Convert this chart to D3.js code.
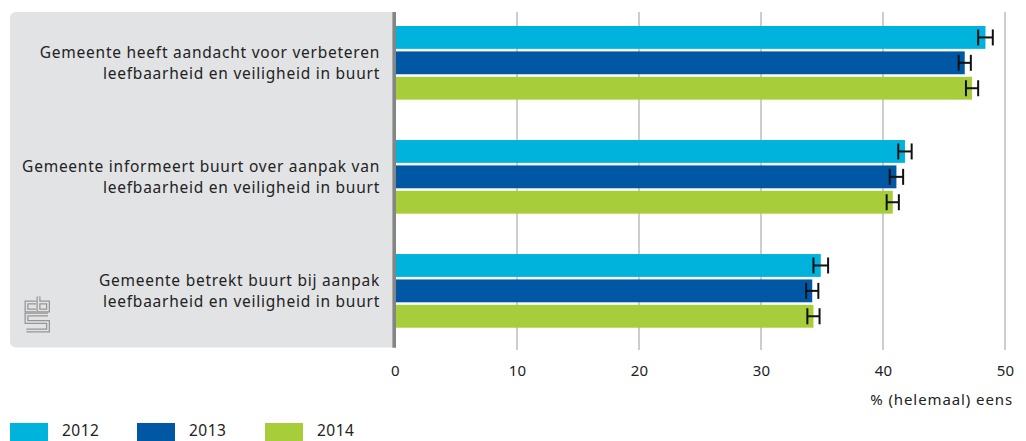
<!doctype html>
<html>
  <head>
    <meta charset="utf-8">
    <script src="https://cdn.jsdelivr.net/npm/d3@7"></script>
    <style>
      body { margin: 0; background: #fff; }
      text { font-family: "Noto Sans", sans-serif; fill: #222; }
    </style>
  </head>
  <body>
    <div id="my_dataviz"></div>
    <script>
      // data
      var categories = [
        ["Gemeente heeft aandacht voor verbeteren", "leefbaarheid en veiligheid in buurt"],
        ["Gemeente informeert buurt over aanpak van", "leefbaarheid en veiligheid in buurt"],
        ["Gemeente betrekt buurt bij aanpak", "leefbaarheid en veiligheid in buurt"]
      ];
      var years = ["2012", "2013", "2014"];
      var values2012 = [48.4, 41.8, 34.9];
      var values2013 = [46.7, 41.1, 34.2];
      var values2014 = [47.3, 40.8, 34.3];
      // half width of the confidence interval
      var errors2012 = [0.6, 0.55, 0.6];
      var errors2013 = [0.5, 0.55, 0.5];
      var errors2014 = [0.5, 0.5, 0.5];
      var xTicks = [0, 10, 20, 30, 40, 50];
      var xTitle = "% (helemaal) eens";

      var colors = ["#00b3dc", "#0058a5", "#a8cd3a"];
      var seriesValues = [values2012, values2013, values2014];
      var seriesErrors = [errors2012, errors2013, errors2014];

      var width = 1026, height = 441;

      var svg = d3.select("#my_dataviz")
        .append("svg")
          .attr("width", width)
          .attr("height", height);

      // scales
      var x = d3.scaleLinear()
        .domain([0, 50])
        .range([395, 1005]);

      var y = d3.scaleBand()
        .domain(d3.range(categories.length))
        .range([26, 327.7])
        .paddingInner(0.354)
        .paddingOuter(0);

      var ySub = d3.scaleBand()
        .domain(years)
        .range([0, y.bandwidth()])
        .paddingInner(0.1);

      var color = d3.scaleOrdinal().domain(years).range(colors);

      // grey label panel
      svg.append("rect")
        .attr("x", 10)
        .attr("y", 12)
        .attr("width", 390)
        .attr("height", 335.5)
        .attr("rx", 6)
        .attr("fill", "#e2e3e5");

      // gridlines
      svg.append("g")
        .selectAll("line")
        .data(xTicks.slice(1))
        .enter()
        .append("line")
          .attr("x1", function(d) { return x(d); })
          .attr("x2", function(d) { return x(d); })
          .attr("y1", 12)
          .attr("y2", 350)
          .attr("stroke", "#bdbdbd")
          .attr("stroke-width", 1.5);

      // white area right of panel so the panel corner on the right is hidden
      svg.append("rect")
        .attr("x", 394)
        .attr("y", 12)
        .attr("width", 8)
        .attr("height", 336)
        .attr("fill", "#fff");

      // bars
      years.forEach(function(yr, s) {
        var g = svg.append("g");
        g.selectAll("rect")
          .data(seriesValues[s])
          .enter()
          .append("rect")
            .attr("x", x(0))
            .attr("y", function(d, i) { return y(i) + ySub(yr); })
            .attr("width", function(d) { return x(d) - x(0); })
            .attr("height", ySub.bandwidth())
            .attr("fill", color(yr));

        // error bars
        var eb = g.selectAll(".err")
          .data(seriesValues[s])
          .enter()
          .append("g")
            .attr("transform", function(d, i) {
              return "translate(0," + (y(i) + ySub(yr) + ySub.bandwidth() / 2) + ")";
            });
        var capH = 8;
        eb.append("line")
          .attr("x1", function(d, i) { return x(d - seriesErrors[s][i]); })
          .attr("x2", function(d, i) { return x(d + seriesErrors[s][i]); })
          .attr("stroke", "#111").attr("stroke-width", 2);
        eb.append("line")
          .attr("x1", function(d, i) { return x(d - seriesErrors[s][i]); })
          .attr("x2", function(d, i) { return x(d - seriesErrors[s][i]); })
          .attr("y1", -capH).attr("y2", capH)
          .attr("stroke", "#111").attr("stroke-width", 2);
        eb.append("line")
          .attr("x1", function(d, i) { return x(d + seriesErrors[s][i]); })
          .attr("x2", function(d, i) { return x(d + seriesErrors[s][i]); })
          .attr("y1", -capH).attr("y2", capH)
          .attr("stroke", "#111").attr("stroke-width", 2);
      });

      // axis line at zero
      svg.append("line")
        .attr("x1", x(0) - 0.8)
        .attr("x2", x(0) - 0.8)
        .attr("y1", 12)
        .attr("y2", 347.7)
        .attr("stroke", "#858585")
        .attr("stroke-width", 3.6);

      // category labels
      var lab = svg.append("g")
        .selectAll("text")
        .data(categories)
        .enter()
        .append("text")
          .attr("text-anchor", "end")
          .style("font-size", "15.5px")
          .style("letter-spacing", "0.75px");
      lab.append("tspan")
        .attr("x", 380)
        .attr("y", function(d, i) { return y(i) + y.bandwidth() / 2 - 5; })
        .text(function(d) { return d[0]; });
      lab.append("tspan")
        .attr("x", 380)
        .attr("y", function(d, i) { return y(i) + y.bandwidth() / 2 + 16; })
        .text(function(d) { return d[1]; });

      // x axis labels
      var xAxis = svg.append("g")
        .attr("transform", "translate(0,376)")
        .call(d3.axisBottom(x).tickValues(xTicks).tickSize(0).tickPadding(0));
      xAxis.select(".domain").remove();
      xAxis.selectAll("text")
        .attr("dy", 0)
        .attr("y", 0)
        .style("font-family", "'Noto Sans', sans-serif")
        .style("font-size", "15px")
        .style("letter-spacing", "0.3px")
        .attr("fill", "#222");

      svg.append("text")
        .attr("x", 1013)
        .attr("y", 405)
        .attr("text-anchor", "end")
        .style("font-size", "15px")
        .style("letter-spacing", "0.9px")
        .text(xTitle);

      // cbs logo
      var logo = svg.append("g")
        .attr("transform", "translate(25,296)")
        .attr("fill", "none");
      var logoPaths = [
        "M11,6.5 H1.5 V14.5 H11",
        "M13.5,0.5 V14.5 H23 V6.5 H13.5",
        "M23,18.5 H1.5 V26 H23 V34.5 H1.5"
      ];
      logo.selectAll(".outer").data(logoPaths).enter().append("path")
        .attr("d", function(d) { return d; })
        .attr("stroke", "#969696").attr("stroke-width", 4);
      logo.selectAll(".inner").data(logoPaths).enter().append("path")
        .attr("d", function(d) { return d; })
        .attr("stroke", "#e2e3e5").attr("stroke-width", 1.5);

      // legend
      var leg = svg.append("g")
        .selectAll("g")
        .data(years)
        .enter()
        .append("g")
          .attr("transform", function(d, i) { return "translate(" + [10, 137, 265][i] + ",423)"; });
      leg.append("rect")
        .attr("width", 38)
        .attr("height", 18)
        .attr("fill", function(d) { return color(d); });
      leg.append("text")
        .attr("x", 52)
        .attr("y", 13)
        .style("font-size", "15.5px")
        .style("letter-spacing", "0.5px")
        .text(function(d) { return d; });
    </script>
  </body>
</html>
